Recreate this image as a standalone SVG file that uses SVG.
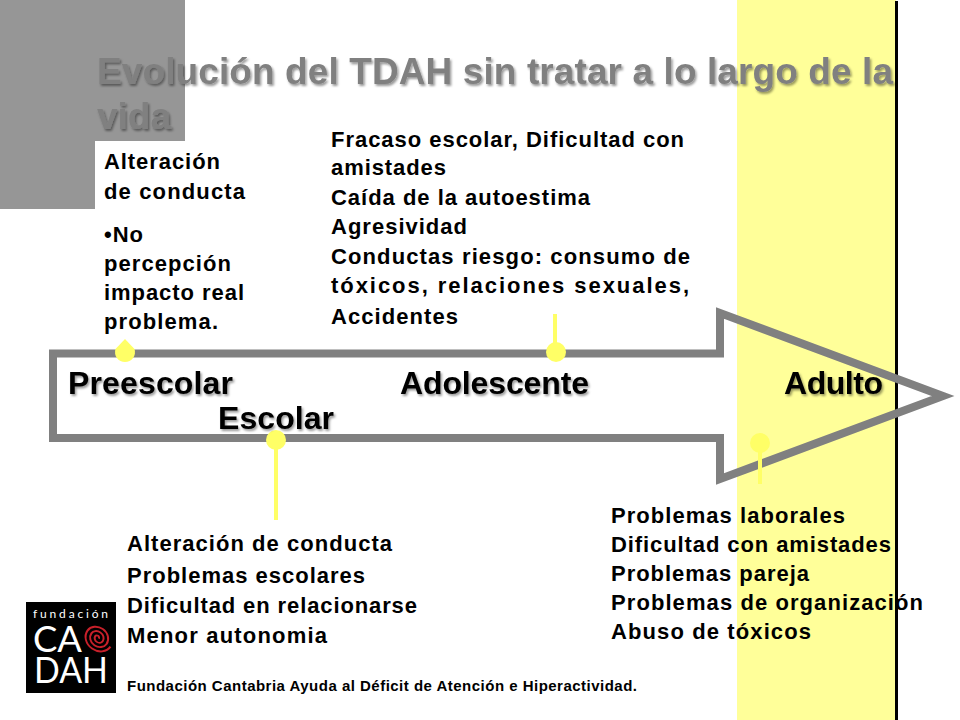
<svg xmlns="http://www.w3.org/2000/svg" width="960" height="720" viewBox="0 0 960 720">
<style>
text{font-family:"Liberation Sans",Arial,sans-serif;font-weight:bold}
.b{font-size:22px;fill:#000}
.h{font-size:32px;fill:#000;filter:url(#sh)}
.t{font-size:37px;fill:#808080;filter:url(#sh)}
.pin{fill:#ffff66;stroke:none}
.stem{stroke:#ffff66;stroke-width:4;fill:none}
.l{font-family:Lato,sans-serif;font-weight:normal;fill:#fff}
</style>
<defs><filter id="sh" x="-5%" y="-20%" width="110%" height="150%"><feDropShadow dx="1.500" dy="2" stdDeviation="1.200" flood-color="#000" flood-opacity=".4"/></filter></defs>
<rect width="960" height="720" fill="#fff"/>
<g id="background">
<rect x="737" y="0" width="159" height="720" fill="#ffff99"/>
<rect x="895" y="1" width="3" height="719" fill="#000"/>
<path d="M0,0H185V141H95V209H0Z" fill="#969696"/>
</g>
<g id="title">
<text class="t" x="97" y="84" textLength="796" lengthAdjust="spacing">Evolución del TDAH sin tratar a lo largo de la</text>
<text class="t" x="97" y="129" textLength="74" lengthAdjust="spacing">vida</text>
</g>
<g id="connectors">
<path d="M53,353.500H720V313L943,396L720,479V438H53Z" fill="none" stroke="#808080" stroke-width="8"/>
<path class="stem" d="M555,314V352M276,440V520M760,443V484"/>
</g>
<g id="node-preescolar">
<path class="pin" d="M125,339L134.500,349A10,10 0 1 1 115.500,349Z"/>
<text class="h" x="68" y="394" textLength="165" lengthAdjust="spacing">Preescolar</text>
<text class="b" x="104" y="169" textLength="116" lengthAdjust="spacing">Alteración</text>
<text class="b" x="104" y="199" textLength="141" lengthAdjust="spacing">de conducta</text>
<text class="b" x="104" y="242" textLength="39" lengthAdjust="spacing">•No</text>
<text class="b" x="104" y="271" textLength="127" lengthAdjust="spacing">percepción</text>
<text class="b" x="104" y="300" textLength="140" lengthAdjust="spacing">impacto real</text>
<text class="b" x="104" y="329" textLength="114" lengthAdjust="spacing">problema.</text>
</g>
<g id="node-escolar">
<circle class="pin" cx="276" cy="440" r="10"/>
<text class="h" x="218" y="429" textLength="116" lengthAdjust="spacing">Escolar</text>
<text class="b" x="127" y="551" textLength="265" lengthAdjust="spacing">Alteración de conducta</text>
<text class="b" x="127" y="583" textLength="238" lengthAdjust="spacing">Problemas escolares</text>
<text class="b" x="127" y="613" textLength="290" lengthAdjust="spacing">Dificultad en relacionarse</text>
<text class="b" x="127" y="643" textLength="200" lengthAdjust="spacing">Menor autonomia</text>
</g>
<g id="node-adolescente">
<circle class="pin" cx="556" cy="352" r="10"/>
<text class="h" x="400" y="394" textLength="189" lengthAdjust="spacing">Adolescente</text>
<text class="b" x="331" y="147" textLength="353" lengthAdjust="spacing">Fracaso escolar, Dificultad con</text>
<text class="b" x="331" y="175" textLength="115" lengthAdjust="spacing">amistades</text>
<text class="b" x="331" y="205" textLength="259" lengthAdjust="spacing">Caída de la autoestima</text>
<text class="b" x="331" y="234" textLength="136" lengthAdjust="spacing">Agresividad</text>
<text class="b" x="331" y="264" textLength="359" lengthAdjust="spacing">Conductas riesgo: consumo de</text>
<text class="b" x="331" y="293" textLength="358" lengthAdjust="spacing">tóxicos, relaciones sexuales,</text>
<text class="b" x="331" y="324" textLength="127" lengthAdjust="spacing">Accidentes</text>
</g>
<g id="node-adulto">
<circle class="pin" cx="760" cy="443" r="10"/>
<text class="h" x="784" y="394" textLength="99" lengthAdjust="spacing">Adulto</text>
<text class="b" x="611" y="523" textLength="234" lengthAdjust="spacing">Problemas laborales</text>
<text class="b" x="611" y="552" textLength="280" lengthAdjust="spacing">Dificultad con amistades</text>
<text class="b" x="611" y="581" textLength="198" lengthAdjust="spacing">Problemas pareja</text>
<text class="b" x="611" y="610" textLength="312" lengthAdjust="spacing">Problemas de organización</text>
<text class="b" x="611" y="639" textLength="200" lengthAdjust="spacing">Abuso de tóxicos</text>
</g>
<g id="logo">
<rect x="26" y="602" width="90" height="91" fill="#000"/>
<text class="l" x="33" y="618" font-size="12" textLength="75" lengthAdjust="spacing">fundación</text>
<text class="l" x="33" y="652" font-size="37" textLength="49" lengthAdjust="spacingAndGlyphs">CA</text>
<text class="l" x="34" y="683" font-size="36" textLength="74" lengthAdjust="spacingAndGlyphs">DAH</text>
<path transform="translate(98,638) rotate(35) scale(.95,.82)" d="M1,0A2.250,2.250 0 0 0 -3.500,0A4.750,4.750 0 0 0 6,0A7.250,7.250 0 0 0 -8.500,0A9.750,9.750 0 0 0 11,0A12.250,12.250 0 0 0 -13.500,0A14.750,14.750 0 0 0 16,0" fill="none" stroke="#c8202a" stroke-width="2.200"/>
</g>
<g id="footer">
<text x="127" y="691" font-size="15" textLength="510" lengthAdjust="spacing">Fundación Cantabria Ayuda al Déficit de Atención e Hiperactividad.</text>
</g>
</svg>
